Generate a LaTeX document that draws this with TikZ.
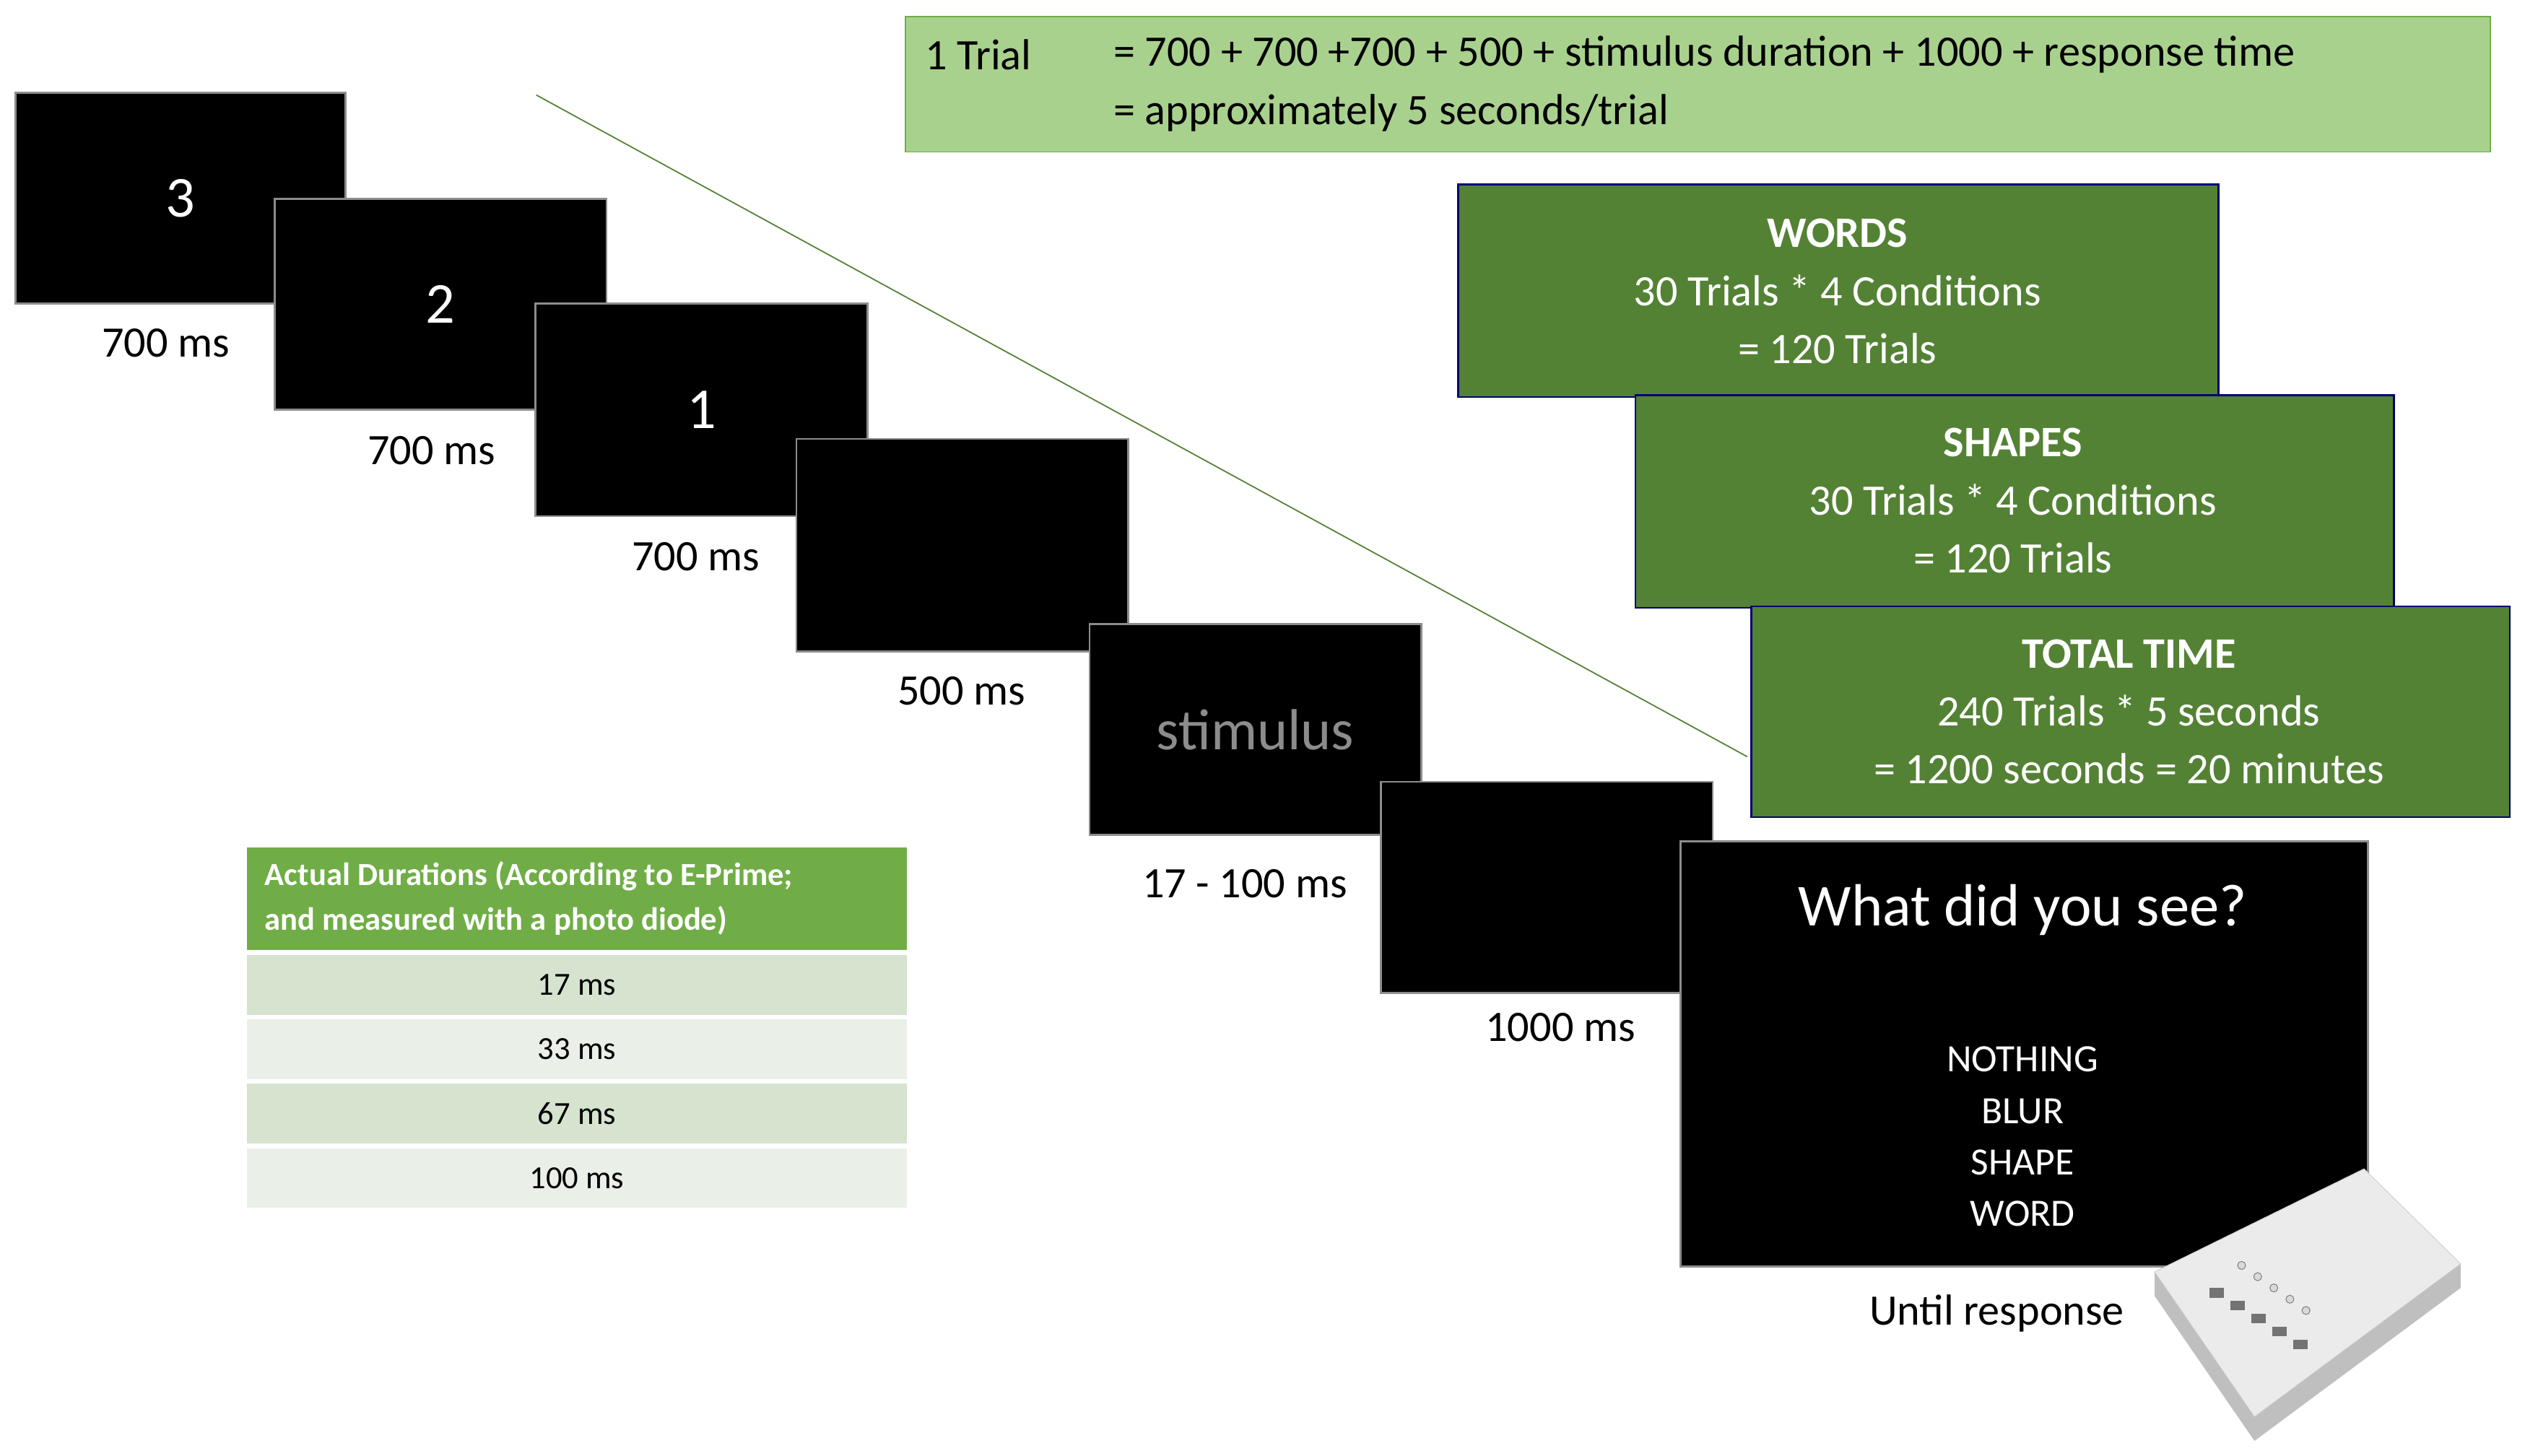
\documentclass[tikz,border=0pt]{standalone}
\usepackage{fontspec}
\setmainfont{Carlito}
\begin{document}
\begin{tikzpicture}[x=1pt,y=-1pt,
 scr/.style={fill=black,draw=black!45,line width=1.2pt},
 lab/.style={font=\fontsize{27}{30}\selectfont,anchor=center},
 gbox/.style={draw=blue!45!black,line width=1.2pt},
 gtxt/.style={text=white,font=\fontsize{27}{36}\selectfont,align=center,anchor=center}]
\definecolor{gdark}{HTML}{548235}
\definecolor{gtop}{HTML}{A9D18E}
\definecolor{ghead}{HTML}{70AD47}
\definecolor{grow1}{HTML}{D5E3CF}
\definecolor{grow2}{HTML}{EAF0E7}
\useasboundingbox (0,0) rectangle (1568,904);
\draw[color=gdark,line width=0.8pt] (333,59) coordinate (l1) -- (1085,470) coordinate (l2);
% screens
\node[scr,minimum width=205,minimum height=131,anchor=north west,text=white,font=\fontsize{36}{38}\selectfont] (s1) at (9,57) {3};
\node[lab] (t1) at (103,213) {700 ms};
\node[scr,minimum width=206,minimum height=131,anchor=north west,text=white,font=\fontsize{36}{38}\selectfont] (s2) at (170,123) {2};
\node[lab] (t2) at (268,280) {700 ms};
\node[scr,minimum width=206,minimum height=132,anchor=north west,text=white,font=\fontsize{36}{38}\selectfont] (s3) at (332,188) {1};
\node[lab] (t3) at (432,346) {700 ms};
\node[scr,minimum width=206,minimum height=132,anchor=north west] (s4) at (494,272) {};
\node[lab] (t4) at (597,429) {500 ms};
\node[scr,minimum width=206,minimum height=131,anchor=north west,text=black!45,font=\fontsize{36}{38}\selectfont] (s5) at (676,387) {stimulus};
\node[lab] (t5) at (773,549) {17 - 100 ms};
\node[scr,minimum width=206,minimum height=131,anchor=north west] (s6) at (857,485) {};
\node[lab] (t6) at (969,638) {1000 ms};
\node[scr,minimum width=427,minimum height=264,anchor=north west] (s7) at (1043,522) {};
\node[text=white,font=\fontsize{37}{40}\selectfont] (q) at (1256,565) {What did you see?};
\node[text=white,font=\fontsize{24}{32}\selectfont,align=center] (opts) at (1256,706) {NOTHING\\BLUR\\SHAPE\\WORD};
\node[lab] (t7) at (1240,816) {Until response};
% device
\fill[black!25] (1338,805) -- (1400,895) -- (1528,800) -- (1528,785) -- (1400,880) -- (1338,790) -- cycle;
\fill[black!8,draw=black!20] (1338,790) -- (1468,726) -- (1528,785) -- (1400,880) -- cycle;
\foreach \i in {0,...,4}{
 \fill[black!55] ({1372+\i*13},{800+\i*8}) rectangle ++(9,6);
 \draw[black!55,fill=black!15] ({1392+\i*10},{786+\i*7}) circle (2.5);
}
% top box
\node[fill=gtop,draw=ghead,line width=0.8pt,minimum width=984,minimum height=84,anchor=north west] (top) at (562,10) {};
\node[anchor=west,font=\fontsize{27}{30}\selectfont] (tr) at (571,34) {1 Trial};
\node[anchor=west,font=\fontsize{27}{30}\selectfont] (eq1) at (688,34) {= 700 + 700 +700 + 500 + stimulus duration + 1000 + response time};
\node[anchor=west,font=\fontsize{27}{30}\selectfont] (eq2) at (688,70) {= approximately 5 seconds/trial};
% green boxes
\node[gbox,fill=gdark,minimum width=472,minimum height=132,anchor=north west] (b1) at (905,114) {};
\node[gtxt] at (1141,181) {\textbf{WORDS}\\30 Trials * 4 Conditions\\= 120 Trials};
\node[gbox,fill=gdark,minimum width=471,minimum height=132,anchor=north west] (b2) at (1015,245) {};
\node[gtxt] at (1250,311) {\textbf{SHAPES}\\30 Trials * 4 Conditions\\= 120 Trials};
\node[gbox,fill=gdark,minimum width=471,minimum height=131,anchor=north west] (b3) at (1087,376) {};
\node[gtxt] at (1322,442) {\textbf{TOTAL TIME}\\240 Trials * 5 seconds\\= 1200 seconds = 20 minutes};
% table
\node[fill=ghead,minimum width=410,minimum height=64,anchor=north west] (th) at (153,526) {};
\node[anchor=west,text=white,font=\bfseries\fontsize{20}{28}\selectfont,align=left] at (161,558) {Actual Durations (According to E-Prime;\\and measured with a photo diode)};
\node[fill=grow1,minimum width=410,minimum height=37,anchor=north west,font=\fontsize{20}{22}\selectfont] (r1) at (153,593) {17 ms};
\node[fill=grow2,minimum width=410,minimum height=37,anchor=north west,font=\fontsize{20}{22}\selectfont] (r2) at (153,633) {33 ms};
\node[fill=grow1,minimum width=410,minimum height=37,anchor=north west,font=\fontsize{20}{22}\selectfont] (r3) at (153,673) {67 ms};
\node[fill=grow2,minimum width=410,minimum height=37,anchor=north west,font=\fontsize{20}{22}\selectfont] (r4) at (153,713) {100 ms};
\end{tikzpicture}
\end{document}
